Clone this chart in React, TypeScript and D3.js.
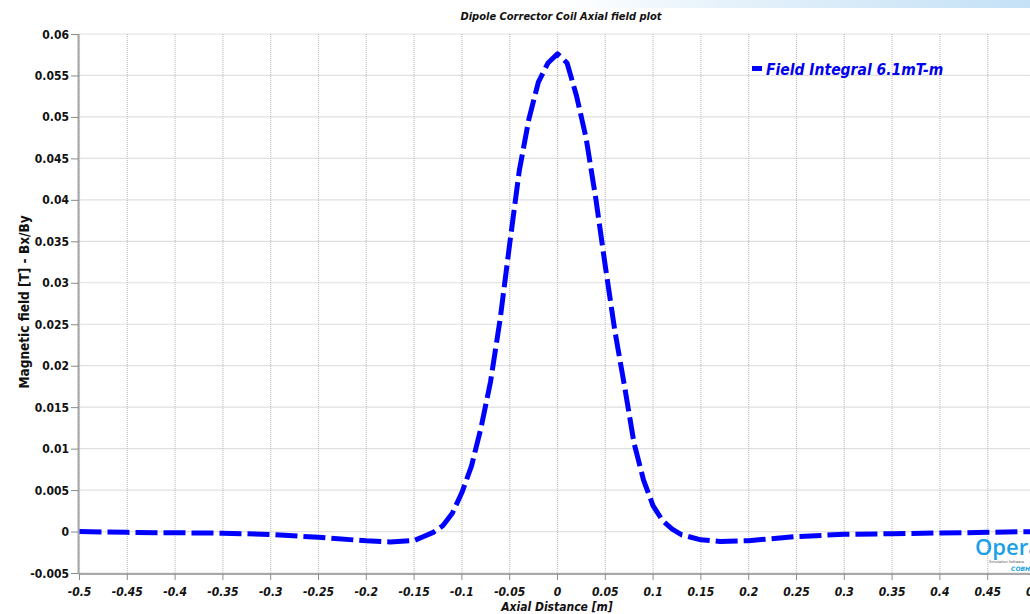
import React from 'react';
import * as d3 from 'd3';

// Axial field profile of the dipole corrector coil (position in m, field in T)
const axialPosition = [
  -0.5, -0.45, -0.4, -0.35, -0.3, -0.25, -0.2, -0.175, -0.15, -0.14, -0.13, -0.12,
  -0.11, -0.1, -0.09, -0.08, -0.07, -0.06, -0.05, -0.04, -0.03, -0.02, -0.01, 0,
  0.01, 0.02, 0.03, 0.04, 0.05, 0.06, 0.07, 0.08, 0.09, 0.1, 0.11, 0.12, 0.13,
  0.15, 0.17, 0.2, 0.25, 0.3, 0.35, 0.4, 0.45, 0.5,
];
const fieldB = [
  0.0, -0.0001, -0.00015, -0.0002, -0.00035, -0.0007, -0.00112, -0.00125, -0.00108, -0.0006, -0.0001, 0.0007,
  0.0022, 0.0047, 0.0079, 0.0125, 0.0181, 0.0256, 0.0347, 0.0435, 0.0497, 0.0542, 0.0565, 0.0576,
  0.0565, 0.0525, 0.0474, 0.0402, 0.032, 0.0242, 0.0176, 0.0107, 0.0062, 0.0031, 0.0013, 0.0003, -0.0004,
  -0.001, -0.0012, -0.0011, -0.0006, -0.00034, -0.00026, -0.00018, -0.0001, 0.0,
];

const xTickValues = [
  -0.5, -0.45, -0.4, -0.35, -0.3, -0.25, -0.2, -0.15, -0.1, -0.05, 0,
  0.05, 0.1, 0.15, 0.2, 0.25, 0.3, 0.35, 0.4, 0.45, 0.5,
];
const xTickLabels = [
  '-0.5', '-0.45', '-0.4', '-0.35', '-0.3', '-0.25', '-0.2', '-0.15', '-0.1', '-0.05', '0',
  '0.05', '0.1', '0.15', '0.2', '0.25', '0.3', '0.35', '0.4', '0.45', '0.5',
];
const yTickValues = [
  -0.005, 0, 0.005, 0.01, 0.015, 0.02, 0.025, 0.03, 0.035, 0.04, 0.045, 0.05, 0.055, 0.06,
];
const yTickLabels = [
  '-0.005', '0', '0.005', '0.01', '0.015', '0.02', '0.025', '0.03', '0.035', '0.04', '0.045', '0.05', '0.055', '0.06',
];

const W = 1030;
const H = 614;
const FONT = '"DejaVu Sans Condensed", "DejaVu Sans", sans-serif';

export default function App() {
  const x = d3.scaleLinear().domain([-0.5, 0.5]).range([79.5, 1035.5]);
  const y = d3.scaleLinear().domain([-0.005, 0.06]).range([573, 34]);
  const points: [number, number][] = axialPosition.map((p, i) => [p, fieldB[i]]);
  const line = d3
    .line<[number, number]>()
    .x((d) => x(d[0]))
    .y((d) => y(d[1]))
    .curve(d3.curveLinear);

  const left = x(-0.5);
  const right = x(0.5);
  const top = y(0.06);
  const bottom = y(-0.005);

  return (
    <svg
      width={W}
      height={H}
      viewBox={`0 0 ${W} ${H}`}
      style={{ position: 'absolute', left: 0, top: 0, background: '#fff', overflow: 'hidden' }}
    >
      <defs>
        <linearGradient id="band" x1="0" x2="1" y1="0" y2="0">
          <stop offset="0" stopColor="#ffffff" />
          <stop offset="0.35" stopColor="#e6f2fb" />
          <stop offset="1" stopColor="#c4e1f6" />
        </linearGradient>
        <clipPath id="plotClip">
          <rect x={0} y={0} width={W} height={H} />
        </clipPath>
      </defs>
      <rect x={0} y={0} width={W} height={H} fill="#fff" />
      <rect x={560} y={0} width={W - 560} height={8} fill="url(#band)" />

      {/* title */}
      <text
        x={561}
        y={20}
        textAnchor="middle"
        fontFamily={FONT}
        fontSize={11}
        fontWeight="bold"
        fontStyle="italic"
        fill="#111"
      >
        Dipole Corrector Coil Axial field plot
      </text>

      {/* grid */}
      <g stroke="#c0c0c0" strokeWidth={1.2} strokeDasharray="1 1">
        {xTickValues.map((v) => (
          <line key={`gx${v}`} x1={x(v)} x2={x(v)} y1={top} y2={bottom} />
        ))}
        {yTickValues.map((v) => (
          <line key={`gy${v}`} x1={left} x2={right} y1={y(v)} y2={y(v)} />
        ))}
      </g>

      {/* axes */}
      <line x1={left - 1} x2={left - 1} y1={top} y2={bottom + 1} stroke="#a8a8a8" strokeWidth={2} />
      <line x1={left - 1} x2={right} y1={bottom + 1} y2={bottom + 1} stroke="#a8a8a8" strokeWidth={2} />
      <g stroke="#8a8a8a" strokeWidth={1}>
        {yTickValues.map((v) => (
          <line key={`ty${v}`} x1={71} x2={left - 1} y1={y(v) + 0.5} y2={y(v) + 0.5} />
        ))}
        {xTickValues.map((v) => (
          <line key={`tx${v}`} x1={x(v)} x2={x(v)} y1={bottom + 1} y2={bottom + 7} />
        ))}
      </g>

      {/* tick labels */}
      <g fontFamily={FONT} fontSize={12} fontWeight="bold" fill="#111">
        {yTickValues.map((v, i) => (
          <text key={`ly${v}`} x={69} y={y(v) + 4.5} textAnchor="end">
            {yTickLabels[i]}
          </text>
        ))}
        {xTickValues.map((v, i) => (
          <text key={`lx${v}`} x={x(v)} y={596} textAnchor="middle" fontStyle="italic">
            {xTickLabels[i]}
          </text>
        ))}
      </g>

      {/* axis titles */}
      <text
        x={557}
        y={611}
        textAnchor="middle"
        fontFamily={FONT}
        fontSize={12}
        fontWeight="bold"
        fontStyle="italic"
        fill="#111"
      >
        Axial Distance [m]
      </text>
      <text
        transform="translate(29,302) rotate(-90)"
        textAnchor="middle"
        fontFamily={FONT}
        fontSize={13.5}
        fontWeight="bold"
        fill="#111"
      >
        Magnetic field [T] - Bx/By
      </text>

      {/* field curve */}
      <g clipPath="url(#plotClip)">
        <path
          d={line(points) ?? ''}
          fill="none"
          stroke="#0000ff"
          strokeWidth={5}
          strokeDasharray="22 6"
          strokeLinejoin="round"
        />
      </g>

      {/* legend */}
      <line x1={752} x2={762} y1={68.5} y2={68.5} stroke="#0000ff" strokeWidth={5} />
      <text
        x={766}
        y={75}
        fontFamily={FONT}
        fontSize={15.5}
        fontWeight="bold"
        fontStyle="italic"
        fill="#0000ee"
      >
        Field Integral 6.1mT-m
      </text>

      {/* software mark */}
      <text
        x={975}
        y={555}
        fontFamily='"Open Sans", sans-serif'
        fontSize={22}
        fontWeight={600}
        fill="#1aa0e6"
      >
        Opera
      </text>
      <text x={989} y={562.5} fontFamily='"DejaVu Sans", sans-serif' fontSize={3.5} fill="#555">
        Simulation Software
      </text>
      <text
        x={1011}
        y={571}
        fontFamily='"DejaVu Sans", sans-serif'
        fontSize={6}
        fontWeight="bold"
        fontStyle="italic"
        fill="#1aa0e6"
      >
        COBHAM
      </text>
    </svg>
  );
}
